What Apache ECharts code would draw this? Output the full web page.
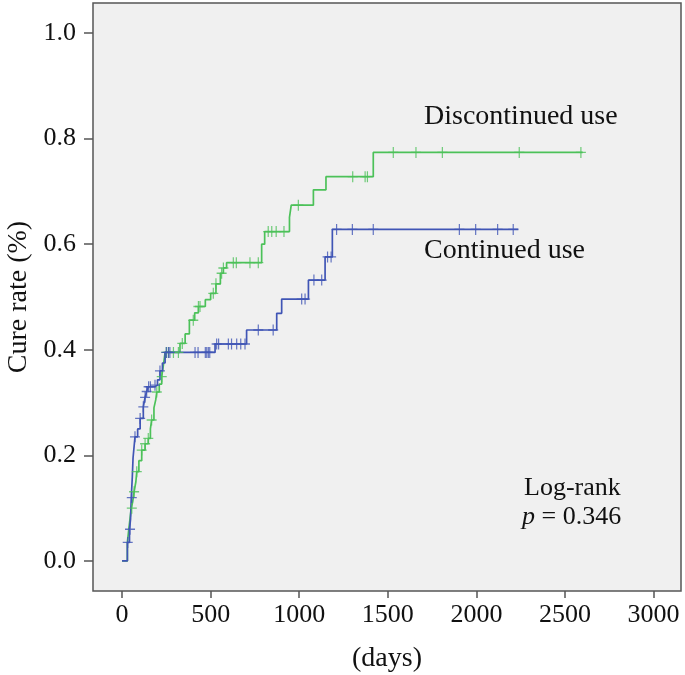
<!DOCTYPE html>
<html>
<head>
<meta charset="utf-8">
<script src="https://cdn.jsdelivr.net/npm/echarts@6/dist/echarts.min.js"></script>
<style>
html,body{margin:0;padding:0;background:#fff;}
#chart{width:685px;height:675px;}
</style>
</head>
<body>
<div id="chart"></div>
<script>
// ---- data ----
var xTicks = [0, 500, 1000, 1500, 2000, 2500, 3000];
var yTicks = [0, 0.2, 0.4, 0.6, 0.8, 1.0];

// Discontinued use: cumulative cure rate steps [day, rate]
var discSteps = [
  [0,0],[30,0.035],[38,0.06],[45,0.08],[52,0.1],[60,0.112],[68,0.131],[78,0.15],[83,0.169],
  [95,0.19],[111,0.21],[130,0.222],[148,0.232],[160,0.25],[167,0.267],[180,0.29],[190,0.305],
  [196,0.32],[210,0.335],[224,0.349],[233,0.37],[243,0.395],[327,0.412],[356,0.43],[380,0.456],
  [410,0.47],[431,0.482],[470,0.495],[500,0.507],[530,0.525],[555,0.545],[572,0.555],[590,0.565],
  [788,0.60],[805,0.624],[945,0.651],[955,0.674],[1080,0.703],[1151,0.728],[1418,0.774],[2600,0.774]
];
var discCensor = [55,68,83,111,130,148,167,196,224,250,262,290,318,340,402,431,440,515,530,562,572,
  628,645,722,769,825,845,870,914,995,1302,1372,1385,1531,1659,1808,2242,2590];

// Continued use
var contSteps = [
  [0,0],[30,0.035],[42,0.06],[48,0.079],[52,0.12],[58,0.16],[62,0.195],[73,0.235],[88,0.25],
  [102,0.27],[120,0.292],[130,0.31],[139,0.321],[148,0.33],[186,0.333],[200,0.343],[214,0.36],
  [228,0.375],[243,0.395],[525,0.411],[703,0.4375],[873,0.469],[901,0.496],[1052,0.532],
  [1146,0.576],[1187,0.628],[2237,0.628]
];
var contCensor = [32,45,55,73,102,120,130,139,150,160,186,214,250,262,270,412,429,470,478,487,495,
  534,545,600,618,647,670,694,769,853,1014,1033,1083,1127,1160,1180,1211,1300,1418,1904,1996,2120,2208];

function valueAt(steps, t){
  var v = 0;
  for (var i=0;i<steps.length;i++){ if (steps[i][0] <= t) v = steps[i][1]; }
  return v;
}
function marks(steps, days){ return days.map(function(d){ return [d, valueAt(steps, d)]; }); }

var GREEN = '#4cc159', BLUE = '#4055b5';
var plus = 'path://M4.4,0h1.2v10h-1.2zM0,4.4h10v1.2h-10z';
var FONT = '"Liberation Serif", "Times New Roman", serif';

var chart = echarts.init(document.getElementById('chart'), null, {renderer:'canvas'});
chart.setOption({
  animation:false,
  backgroundColor:'#ffffff',
  grid:{left:93, right:4, top:3, bottom:84, show:true, backgroundColor:'#f0f0f0',
        borderColor:'#555', borderWidth:1.5, containLabel:false, outerBoundsMode:'none'},
  xAxis:{
    type:'value', min:-164, max:3155,
    name:'(days)', nameLocation:'middle', nameGap:54,
    nameTextStyle:{fontFamily:FONT, fontSize:28, color:'#111'},
    axisLine:{show:false, onZero:false},
    splitLine:{show:false},
    axisTick:{show:true, length:7, customValues:xTicks, lineStyle:{color:'#555', width:1.5}},
    axisLabel:{customValues:xTicks, margin:11, fontFamily:FONT, fontSize:26, color:'#111',
      formatter:function(v){ return String(v); }}
  },
  yAxis:{
    type:'value', min:-0.057, max:1.057,
    name:'Cure rate (%)', nameLocation:'middle', nameGap:60, nameRotate:90,
    nameTextStyle:{fontFamily:FONT, fontSize:28, color:'#111'},
    axisLine:{show:false, onZero:false},
    splitLine:{show:false},
    axisTick:{show:true, length:9, customValues:yTicks, lineStyle:{color:'#555', width:1.5}},
    axisLabel:{customValues:yTicks, margin:17, fontFamily:FONT, fontSize:26, color:'#111',
      formatter:function(v){ return v.toFixed(1); }}
  },
  series:[
    {type:'line', name:'Discontinued use', step:'end', data:discSteps, showSymbol:false,
     lineStyle:{color:GREEN, width:1.7}, z:3},
    {type:'line', name:'Continued use', step:'end', data:contSteps, showSymbol:false,
     lineStyle:{color:BLUE, width:1.7}, z:3},
    {type:'scatter', data:marks(discSteps, discCensor), symbol:plus, symbolSize:[10,11],
     itemStyle:{color:GREEN}, z:4},
    {type:'scatter', data:marks(contSteps, contCensor), symbol:plus, symbolSize:[10,11],
     itemStyle:{color:BLUE}, z:4}
  ],
  graphic:[
    {type:'text', left:424, top:103, style:{text:'Discontinued use', font:'28px '+FONT, fill:'#111'}},
    {type:'text', left:424, top:237, style:{text:'Continued use', font:'28px '+FONT, fill:'#111'}},
    {type:'text', left:524, top:475, style:{text:'Log-rank', font:'26px '+FONT, fill:'#111'}},
    {type:'text', left:522, top:504, style:{
      text:'{i|p} = 0.346', font:'26px '+FONT, fill:'#111',
      rich:{i:{fontFamily:FONT, fontSize:26, fontStyle:'italic', fill:'#111'}}}}
  ]
});
</script>
</body>
</html>
